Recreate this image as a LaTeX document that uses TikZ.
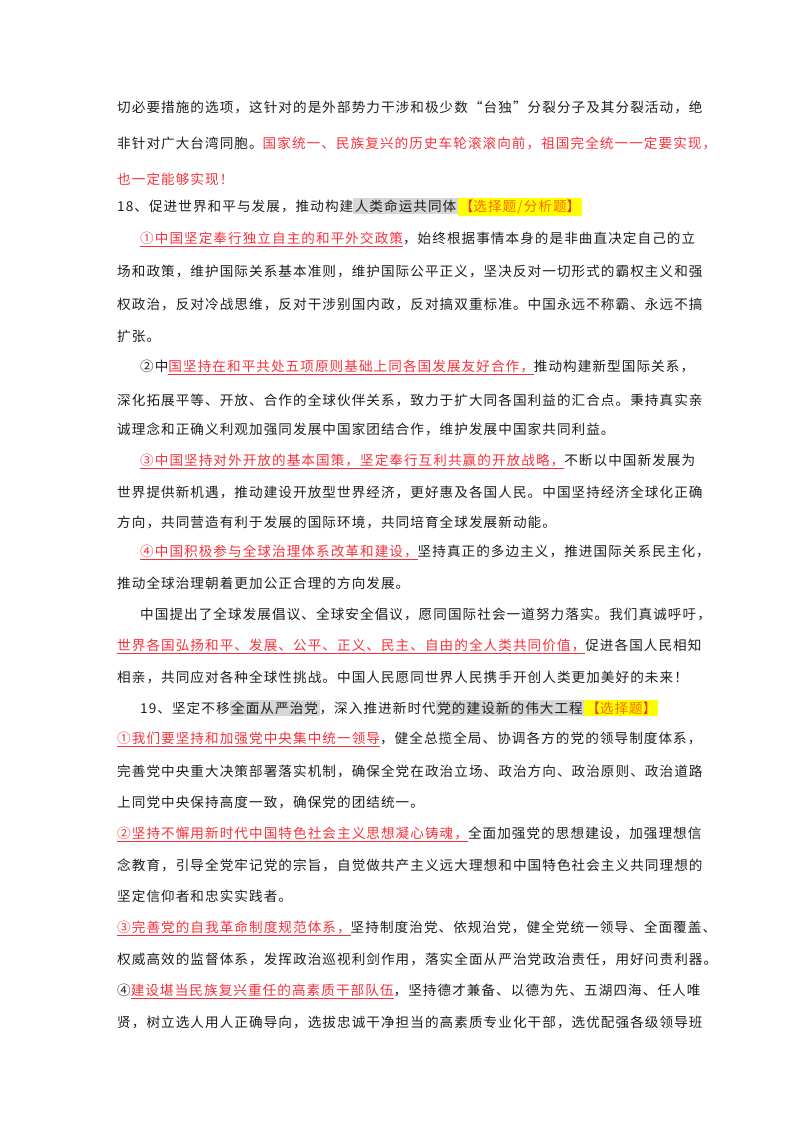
\documentclass[tikz,border=0pt]{standalone}
\usepackage{fontspec}
\newfontfamily\cjk[LetterSpace=7.8]{Noto Sans CJK SC}
\definecolor{rd}{RGB}{245,50,60}
\definecolor{hg}{RGB}{215,215,215}
\definecolor{yl}{RGB}{255,255,0}
\definecolor{tx}{RGB}{30,30,30}
\newcommand{\R}[1]{\textcolor{rd}{#1}}
\newcommand{\U}[1]{{\color{rd}\underline{#1}}}
\newcommand{\G}[1]{{\setlength{\fboxsep}{1.5pt}\colorbox{hg}{#1}}}
\newcommand{\Y}[1]{{\setlength{\fboxsep}{2pt}\colorbox{yl}{\textcolor{rd}{【}\textcolor{orange!80!red}{#1}\textcolor{rd}{】}}}}
\begin{document}
\begin{tikzpicture}[x=1pt,y=-1pt,
  ln/.style={anchor=west,inner sep=0pt,font=\cjk\fontsize{13.6}{14}\selectfont,text=tx}]
\useasboundingbox (0,0) rectangle (800,1132);
\fill[white] (0,0) rectangle (800,1132);
\node[ln] (l1) at (117,107) {切必要措施的选项，这针对的是外部势力干涉和极少数“台独”分裂分子及其分裂活动，绝};
\node[ln] (l2) at (117,143) {非针对广大台湾同胞。\R{国家统一、民族复兴的历史车轮滚滚向前，祖国完全统一一定要实现，}};
\node[ln] (l3) at (117,179) {\R{也一定能够实现！}};
\node[ln] (l4) at (117,207) {18、促进世界和平与发展，推动构建\G{人类命运共同体}\Y{选择题/分析题}};
\node[ln] (l5) at (140,239) {\U{①中国坚定奉行独立自主的和平外交政策}，始终根据事情本身的是非曲直决定自己的立};
\node[ln] (l6) at (117,271) {场和政策，维护国际关系基本准则，维护国际公平正义，坚决反对一切形式的霸权主义和强};
\node[ln] (l7) at (117,304) {权政治，反对冷战思维，反对干涉别国内政，反对搞双重标准。中国永远不称霸、永远不搞};
\node[ln] (l8) at (117,336) {扩张。};
\node[ln] (l9) at (140,367) {②中\U{国坚持在和平共处五项原则基础上同各国发展友好合作，}推动构建新型国际关系，};
\node[ln] (l10) at (117,400) {深化拓展平等、开放、合作的全球伙伴关系，致力于扩大同各国利益的汇合点。秉持真实亲};
\node[ln] (l11) at (117,429) {诚理念和正确义利观加强同发展中国家团结合作，维护发展中国家共同利益。};
\node[ln] (l12) at (140,461) {\U{③中国坚持对外开放的基本国策，坚定奉行互利共赢的开放战略，}不断以中国新发展为};
\node[ln] (l13) at (117,492) {世界提供新机遇，推动建设开放型世界经济，更好惠及各国人民。中国坚持经济全球化正确};
\node[ln] (l14) at (117,522) {方向，共同营造有利于发展的国际环境，共同培育全球发展新动能。};
\node[ln] (l15) at (140,552) {\U{④中国积极参与全球治理体系改革和建设，}坚持真正的多边主义，推进国际关系民主化，};
\node[ln] (l16) at (117,583) {推动全球治理朝着更加公正合理的方向发展。};
\node[ln] (l17) at (140,614) {中国提出了全球发展倡议、全球安全倡议，愿同国际社会一道努力落实。我们真诚呼吁，};
\node[ln] (l18) at (117,646) {\U{世界各国弘扬和平、发展、公平、正义、民主、自由的全人类共同价值，}促进各国人民相知};
\node[ln] (l19) at (117,677) {相亲，共同应对各种全球性挑战。中国人民愿同世界人民携手开创人类更加美好的未来！};
\node[ln] (l20) at (140,708) {19、坚定不移\G{全面从严治党}，深入推进新时代\G{党的建设新的伟大工程}\Y{选择题}};
\node[ln] (l21) at (117,739) {\U{①我们要坚持和加强党中央集中统一领导}，健全总揽全局、协调各方的党的领导制度体系，};
\node[ln] (l22) at (117,771) {完善党中央重大决策部署落实机制，确保全党在政治立场、政治方向、政治原则、政治道路};
\node[ln] (l23) at (117,802) {上同党中央保持高度一致，确保党的团结统一。};
\node[ln] (l24) at (117,834) {\U{②坚持不懈用新时代中国特色社会主义思想凝心铸魂，}全面加强党的思想建设，加强理想信};
\node[ln] (l25) at (117,865) {念教育，引导全党牢记党的宗旨，自觉做共产主义远大理想和中国特色社会主义共同理想的};
\node[ln] (l26) at (117,896) {坚定信仰者和忠实实践者。};
\node[ln] (l27) at (117,928) {\U{③完善党的自我革命制度规范体系，}坚持制度治党、依规治党，健全党统一领导、全面覆盖、};
\node[ln] (l28) at (117,959) {权威高效的监督体系，发挥政治巡视利剑作用，落实全面从严治党政治责任，用好问责利器。};
\node[ln] (l29) at (117,991) {④\U{建设堪当民族复兴重任的高素质干部队伍}，坚持德才兼备、以德为先、五湖四海、任人唯};
\node[ln] (l30) at (117,1022) {贤，树立选人用人正确导向，选拔忠诚干净担当的高素质专业化干部，选优配强各级领导班};
\end{tikzpicture}
\end{document}
